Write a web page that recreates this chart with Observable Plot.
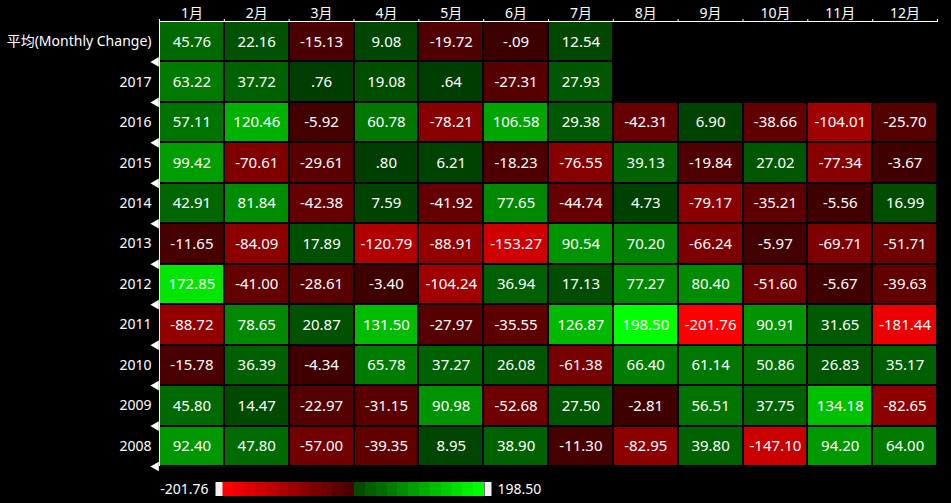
<!DOCTYPE html>
<html>
<head>
<meta charset="utf-8">
<script src="https://cdn.jsdelivr.net/npm/d3@7"></script>
<script src="https://cdn.jsdelivr.net/npm/@observablehq/plot@0.6"></script>
<style>
  html, body { margin: 0; padding: 0; background: #000; }
  #chart { width: 951px; height: 503px; background: #000; overflow: hidden; }
  #chart svg { display: block; }
</style>
</head>
<body>
<div id="chart"></div>
<script>
const months = ["1月","2月","3月","4月","5月","6月","7月","8月","9月","10月","11月","12月"];
const rowLabels = ["平均(Monthly Change)","2017","2016","2015","2014","2013","2012","2011","2010","2009","2008"];

const avgRow = [45.76, 22.16, -15.13, 9.08, -19.72, -0.09, 12.54];
const y2017 = [63.22, 37.72, 0.76, 19.08, 0.64, -27.31, 27.93];
const y2016 = [57.11, 120.46, -5.92, 60.78, -78.21, 106.58, 29.38, -42.31, 6.90, -38.66, -104.01, -25.70];
const y2015 = [99.42, -70.61, -29.61, 0.80, 6.21, -18.23, -76.55, 39.13, -19.84, 27.02, -77.34, -3.67];
const y2014 = [42.91, 81.84, -42.38, 7.59, -41.92, 77.65, -44.74, 4.73, -79.17, -35.21, -5.56, 16.99];
const y2013 = [-11.65, -84.09, 17.89, -120.79, -88.91, -153.27, 90.54, 70.20, -66.24, -5.97, -69.71, -51.71];
const y2012 = [172.85, -41.00, -28.61, -3.40, -104.24, 36.94, 17.13, 77.27, 80.40, -51.60, -5.67, -39.63];
const y2011 = [-88.72, 78.65, 20.87, 131.50, -27.97, -35.55, 126.87, 198.50, -201.76, 90.91, 31.65, -181.44];
const y2010 = [-15.78, 36.39, -4.34, 65.78, 37.27, 26.08, -61.38, 66.40, 61.14, 50.86, 26.83, 35.17];
const y2009 = [45.80, 14.47, -22.97, -31.15, 90.98, -52.68, 27.50, -2.81, 56.51, 37.75, 134.18, -82.65];
const y2008 = [92.40, 47.80, -57.00, -39.35, 8.95, 38.90, -11.30, -82.95, 39.80, -147.10, 94.20, 64.00];

const series = [avgRow, y2017, y2016, y2015, y2014, y2013, y2012, y2011, y2010, y2009, y2008];
const cells = series.flatMap((vals, r) => vals.map((v, c) => ({row: r, col: c, value: v})));
const [minV, maxV] = d3.extent(cells, d => d.value);

const fmt = v => v.toFixed(2).replace(/^(-?)0\./, "$1.");
const FONT = "'Noto Sans', 'Noto Sans CJK SC', sans-serif";

const colorScale = {
  type: "linear",
  domain: [minV, -1e-9, 0, maxV],
  range: ["#ff0000", "#3c0000", "#003c00", "#00ff00"]
};

const nRows = rowLabels.length, nCols = months.length;

const main = Plot.plot({
  width: 951,
  height: 475,
  marginTop: 21,
  marginBottom: 9,
  marginLeft: 159,
  marginRight: 14,
  style: {background: "#000", color: "#fff", fontFamily: FONT},
  x: {type: "linear", domain: [0, nCols]},
  y: {type: "linear", domain: [0, nRows], reverse: true},
  color: colorScale,
  marks: [
    Plot.rect(cells, {
      x1: d => d.col, x2: d => d.col + 1,
      y1: d => d.row, y2: d => d.row + 1,
      fill: "value", inset: 1, shapeRendering: "crispEdges"
    }),
    Plot.text(cells, {
      x: d => d.col + 0.5, y: d => d.row + 0.5,
      text: d => fmt(d.value), fill: "#fff", fontSize: 15
    }),
    Plot.ruleY([0], {x1: 0, x2: nCols, stroke: "#fff"}),
    Plot.ruleX([0], {y1: 0, y2: nRows, stroke: "#fff"}),
    Plot.axisX({
      anchor: "top", ticks: d3.range(nCols + 1), tickSize: 3,
      tickFormat: () => "", label: null
    }),
    Plot.axisX({
      anchor: "top", ticks: d3.range(nCols).map(i => i + 0.5), tickSize: 0,
      tickPadding: 4, tickFormat: d => months[Math.floor(d)], fontSize: 14, label: null
    }),
    Plot.axisY({
      anchor: "left", ticks: d3.range(nRows).map(i => i + 0.5), tickSize: 0,
      tickPadding: 8, tickFormat: d => rowLabels[Math.floor(d)], fontSize: 14, label: null
    }),
    Plot.dot(d3.range(1, nRows + 1), {
      x: () => 0, y: d => d, symbol: "triangle", rotate: -90, r: 3.6,
      fill: "#fff", stroke: null, dx: -3.5
    })
  ]
});

// legend ramp
const nSteps = 12;
const ramp = [];
for (let k = 0; k < nSteps; k++) {
  const a = minV + (0 - minV) * k / nSteps, b = minV + (0 - minV) * (k + 1) / nSteps;
  ramp.push({a, b, v: a});
}
for (let k = 0; k < nSteps; k++) {
  const a = maxV * k / nSteps, b = maxV * (k + 1) / nSteps;
  ramp.push({a, b, v: b});
}

const legend = Plot.plot({
  width: 951,
  height: 28,
  marginTop: 7,
  marginBottom: 7,
  marginLeft: 222,
  marginRight: 467,
  style: {background: "#000", color: "#fff", fontFamily: FONT},
  x: {domain: [minV, maxV], axis: null},
  color: colorScale,
  marks: [
    Plot.rect(ramp, {x1: "a", x2: "b", fill: "v", shapeRendering: "crispEdges"}),
    Plot.tickX([minV], {x: d => d, stroke: "#f2f2f2", strokeWidth: 7, dx: -3.5}),
    Plot.tickX([maxV], {x: d => d, stroke: "#f2f2f2", strokeWidth: 7, dx: 3.5}),
    Plot.text([minV], {x: d => d, text: d => fmt(d), textAnchor: "end", dx: -14, fill: "#fff", fontSize: 14}),
    Plot.text([maxV], {x: d => d, text: d => fmt(d), textAnchor: "start", dx: 13, fill: "#fff", fontSize: 14})
  ]
});

const el = document.getElementById("chart");
el.appendChild(main);
el.appendChild(legend);
</script>
</body>
</html>
